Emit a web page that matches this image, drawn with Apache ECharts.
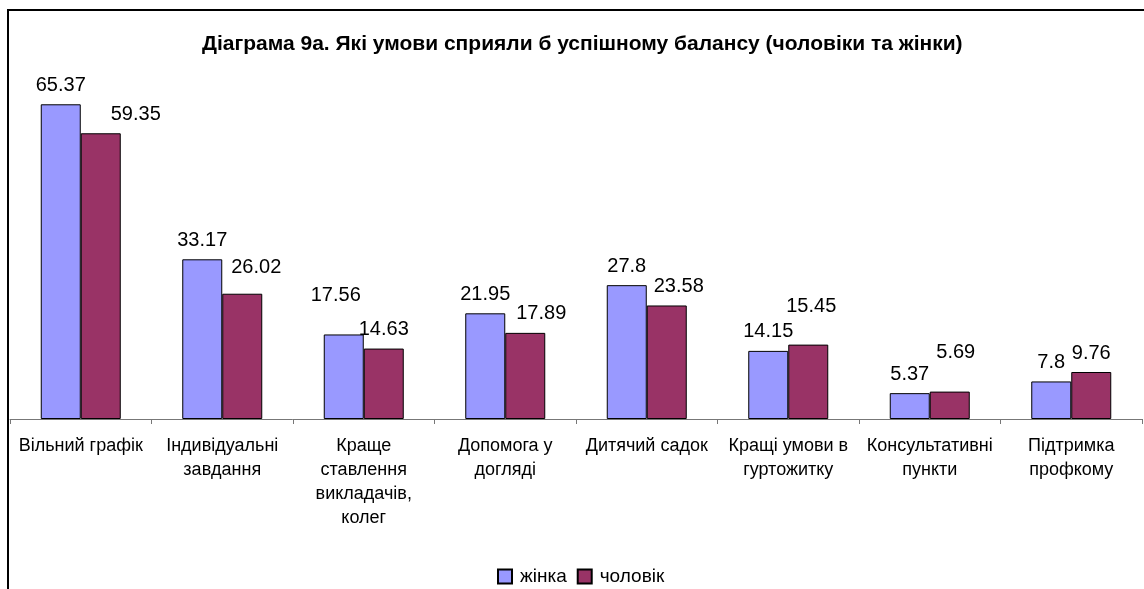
<!DOCTYPE html>
<html>
<head>
<meta charset="utf-8">
<script src="https://cdn.jsdelivr.net/npm/echarts@6/dist/echarts.min.js"></script>
<style>
    html, body { margin: 0; padding: 0; background: #fff; }
    #chart { width: 1144px; height: 589px; }
</style>
</head>
<body>
<div id="chart"></div>
<script>
var categories = [
    'Вільний графік',
    'Індивідуальні\nзавдання',
    'Краще\nставлення\nвикладачів,\nколег',
    'Допомога у\nдогляді',
    'Дитячий садок',
    'Кращі умови в\nгуртожитку',
    'Консультативні\nпункти',
    'Підтримка\nпрофкому'
];
var women = [65.37, 33.17, 17.56, 21.95, 27.8, 14.15, 5.37, 7.8];
var men = [59.35, 26.02, 14.63, 17.89, 23.58, 15.45, 5.69, 9.76];
var seriesNames = ['жінка', 'чоловік'];

// Excel moved a few labels aside so they don't collide
var womenLabelShift = {2: [-8, -20]};
var menLabelShift = {0: [35, 0], 1: [14, -7], 3: [16, 0], 4: [12, 0], 5: [3, -19], 6: [6, -20]};

var font = '"Liberation Sans", Arial, sans-serif';

var toItems = function (values, shift) {
    return values.map(function (v, i) {
        var item = {value: v};
        if (shift[i]) {
            item.label = {offset: shift[i]};
        }
        return item;
    });
};

var barLabel = {
    show: true,
    position: 'top',
    distance: 9,
    color: '#000',
    fontFamily: font,
    fontSize: 20
};

var option = {
    animation: false,
    backgroundColor: '#fff',
    title: {
        text: 'Діаграма 9а. Які умови сприяли б успішному балансу (чоловіки та жінки)',
        left: 197,
        top: 29,
        textStyle: {
            fontFamily: font,
            fontSize: 21,
            fontWeight: 'bold',
            color: '#000'
        }
    },
    legend: {
        data: seriesNames,
        icon: 'rect',
        left: 492,
        top: 562,
        itemWidth: 14,
        itemHeight: 14,
        itemGap: 10,
        textStyle: {
            fontFamily: font,
            fontSize: 19,
            color: '#000',
            padding: [0, 0, 0, 3]
        }
    },
    grid: {
        left: 10,
        right: 2,
        top: 82,
        bottom: 170,
        containLabel: false
    },
    xAxis: {
        type: 'category',
        data: categories,
        axisLine: {lineStyle: {color: '#777', width: 1}},
        axisTick: {show: true, length: 5, lineStyle: {color: '#777'}},
        axisLabel: {
            interval: 0,
            margin: 15,
            color: '#000',
            fontFamily: font,
            fontSize: 18,
            lineHeight: 24
        }
    },
    yAxis: {
        type: 'value',
        min: 0,
        max: 70,
        show: false,
        splitLine: {show: false}
    },
    graphic: [
        {
            type: 'rect',
            z: -1,
            shape: {x: 8, y: 10, width: 1300, height: 800},
            style: {fill: 'none', stroke: '#000', lineWidth: 2}
        }
    ],
    series: [
        {
            name: seriesNames[0],
            type: 'bar',
            data: toItems(women, womenLabelShift),
            barWidth: 40,
            barGap: '0%',
            itemStyle: {color: '#9999FF', borderColor: '#000', borderWidth: 1},
            label: barLabel
        },
        {
            name: seriesNames[1],
            type: 'bar',
            data: toItems(men, menLabelShift),
            barWidth: 40,
            barGap: '0%',
            itemStyle: {color: '#993366', borderColor: '#000', borderWidth: 1},
            label: barLabel
        }
    ]
};

var chart = echarts.init(document.getElementById('chart'));
chart.setOption(option);
</script>
</body>
</html>
